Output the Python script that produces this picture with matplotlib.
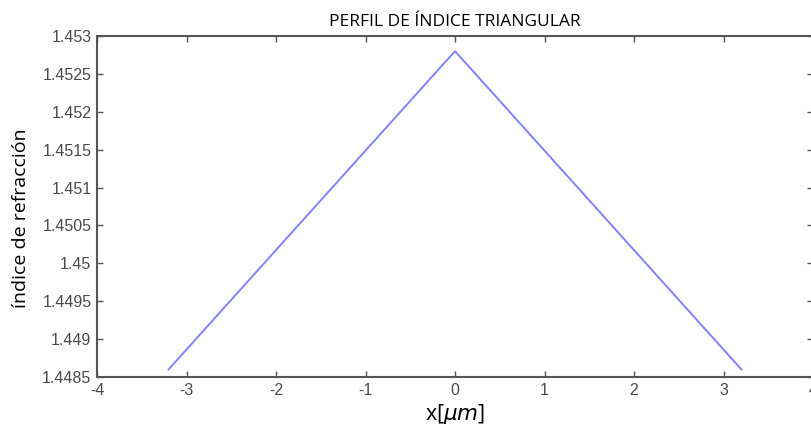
import matplotlib
matplotlib.use("Agg")
import matplotlib.pyplot as plt

x_um = [-3.2, 0.0, 3.2]
n_index = [1.4486, 1.4528, 1.4486]
xticks = [-4, -3, -2, -1, 0, 1, 2, 3, 4]
yticks = [1.4485, 1.449, 1.4495, 1.45, 1.4505, 1.451, 1.4515, 1.452, 1.4525, 1.453]
ytick_labels = ["1.4485", "1.449", "1.4495", "1.45", "1.4505", "1.451", "1.4515", "1.452", "1.4525", "1.453"]

W, H = 811, 430
fig = plt.figure(figsize=(W / 100, H / 100), dpi=100)
left, right, top, bottom = 97, 813, 36, 377
ax = fig.add_axes([left / W, 1 - bottom / H, (right - left) / W, (bottom - top) / H])

ax.plot(x_um, n_index, color="#8282ff", lw=1.4)
ax.set_xlim(-4, 4)
ax.set_ylim(1.4485, 1.453)
ax.set_xticks(xticks)
ax.set_xticklabels([str(t) for t in xticks])
ax.set_yticks(yticks)
ax.set_yticklabels(ytick_labels)

gray = "#555555"
for s in ax.spines.values():
    s.set_color(gray)
    s.set_linewidth(1.5)
ax.tick_params(direction="in", top=True, right=True, length=4, width=1, colors=gray,
               labelcolor="#4a4a4a", labelsize=11.5, pad=4)
for lab in ax.get_xticklabels() + ax.get_yticklabels():
    lab.set_family("Liberation Sans")

ax.set_title("PERFIL DE ÍNDICE TRIANGULAR", fontsize=12.5, family="Open Sans", pad=7)
ax.set_xlabel(r"x[$\mu m$]", fontsize=15.5, family="Open Sans", labelpad=3)
ax.set_ylabel("índice de refracción", fontsize=14, family="Open Sans", labelpad=6)
ax.yaxis.set_label_coords(-0.094, 0.466)

fig.savefig("out.png", dpi=100)
